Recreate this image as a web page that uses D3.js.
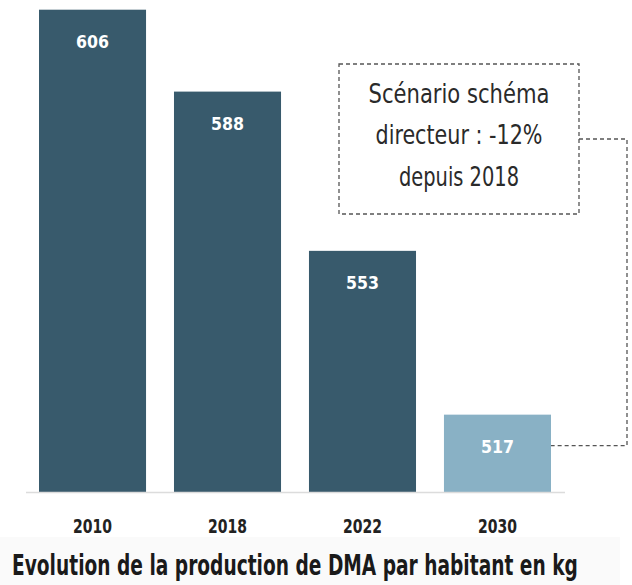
<!DOCTYPE html>
<meta charset="utf-8">
<style>
    body { margin: 0; background: #fff; }
    text { font-family: "DejaVu Sans Condensed", "DejaVu Sans", sans-serif; font-stretch: condensed; }
</style>
<script src="https://d3js.org/d3.v7.min.js"></script>
<div id="svg-holder"></div>
<script>

    /* Data. */
    var years = ["2010", "2018", "2022", "2030"];
    var values = [606, 588, 553, 517];
    var kinds = ["actual", "actual", "actual", "scenario"];   // last one is the target
    var title = "Evolution de la production de DMA par habitant en kg";
    var note_lines = ["Scénario schéma", "directeur : -12%", "depuis 2018"];

    /* Frame. */
    var width = 632;
    var height = 585;
    var baseline = 492;

    var svg = d3.select("#svg-holder").append("svg")
        .attr("width", width).attr("height", height);

    // faint band behind the title
    svg.append("rect")
        .attr("x", 0).attr("y", 537).attr("width", 620).attr("height", 48)
        .attr("fill", "#fafafa");

    // Scales.
    var x = d3.scaleBand()
        .domain(years)
        .range([39, 551])
        .paddingInner(0.207)
        .paddingOuter(0);
    var y = d3.scaleLinear()
        .domain([500, 610])
        .range([baseline, baseline - 110 * 4.55]);

    var colour = { actual: "#385a6c", scenario: "#89b1c5" };

    // Bars.
    svg.selectAll("rect.bar")
        .data(values)
        .enter().append("rect")
        .attr("class", "bar")
        .attr("x", function(d, i) { return x(years[i]); })
        .attr("y", function(d) { return y(d); })
        .attr("width", x.bandwidth())
        .attr("height", function(d) { return baseline - y(d); })
        .attr("fill", function(d, i) { return colour[kinds[i]]; });

    // baseline
    svg.append("line")
        .attr("x1", 26).attr("x2", 565)
        .attr("y1", baseline + 0.5).attr("y2", baseline + 0.5)
        .attr("stroke", "#dcdcdc").attr("stroke-width", 1.5);

    // Value labels inside bars.
    svg.selectAll("text.value")
        .data(values)
        .enter().append("text")
        .attr("class", "value")
        .attr("x", function(d, i) { return x(years[i]) + x.bandwidth() / 2; })
        .attr("y", function(d) { return y(d) + 38; })
        .attr("text-anchor", "middle")
        .attr("font-size", "18px")
        .attr("font-weight", "bold")
        .attr("fill", "#ffffff")
        .attr("textLength", 33)
        .attr("lengthAdjust", "spacingAndGlyphs")
        .text(function(d) { return d; });

    // Year axis.
    var axis = d3.axisBottom(x).tickSize(0).tickPadding(0);
    var g_axis = svg.append("g")
        .attr("transform", "translate(0," + baseline + ")")
        .call(axis);
    g_axis.select(".domain").remove();
    g_axis.attr("font-family", null).attr("font-size", null);
    g_axis.selectAll("text")
        .attr("dy", null)
        .attr("y", 41)
        .attr("font-size", "20px")
        .attr("font-weight", "bold")
        .attr("fill", "#222")
        .attr("textLength", 39)
        .attr("lengthAdjust", "spacingAndGlyphs");

    // Title: squeeze horizontally to the reference width (condensed look).
    var title_text = svg.append("text")
        .attr("x", 0).attr("y", 0)
        .attr("font-size", "28px")
        .attr("font-weight", "bold")
        .attr("fill", "#1a1a1a")
        .text(title);
    var natural = title_text.node().getComputedTextLength();
    title_text.attr("transform", "translate(12,575) scale(" + (566 / natural) + ",1)");

    // Annotation box.
    var box = { x: 339, y: 64, w: 240, h: 150 };
    svg.append("rect")
        .attr("x", box.x).attr("y", box.y)
        .attr("width", box.w).attr("height", box.h)
        .attr("fill", "none")
        .attr("stroke", "#555").attr("stroke-width", 1.3)
        .attr("stroke-dasharray", "4,3");

    var note_widths = [181, 167, 120];
    var note_base = [103, 144, 186];
    note_lines.forEach(function(t, i) {
        svg.append("text")
            .attr("x", box.x + box.w / 2)
            .attr("y", note_base[i])
            .attr("text-anchor", "middle")
            .attr("font-size", "27px")
            .attr("fill", "#2a2a2a")
            .attr("textLength", note_widths[i])
            .attr("lengthAdjust", "spacingAndGlyphs")
            .text(t);
    });

    // Connector from box to the 2030 bar.
    var last = years.length - 1;
    var bar_right = x(years[last]) + x.bandwidth();
    var bar_mid = y(values[last]) + 31;
    svg.append("path")
        .attr("d", "M" + (box.x + box.w) + "," + 139 +
                   "H" + 627 + "V" + bar_mid + "H" + bar_right)
        .attr("fill", "none")
        .attr("stroke", "#555").attr("stroke-width", 1.3)
        .attr("stroke-dasharray", "4,3");

</script>
